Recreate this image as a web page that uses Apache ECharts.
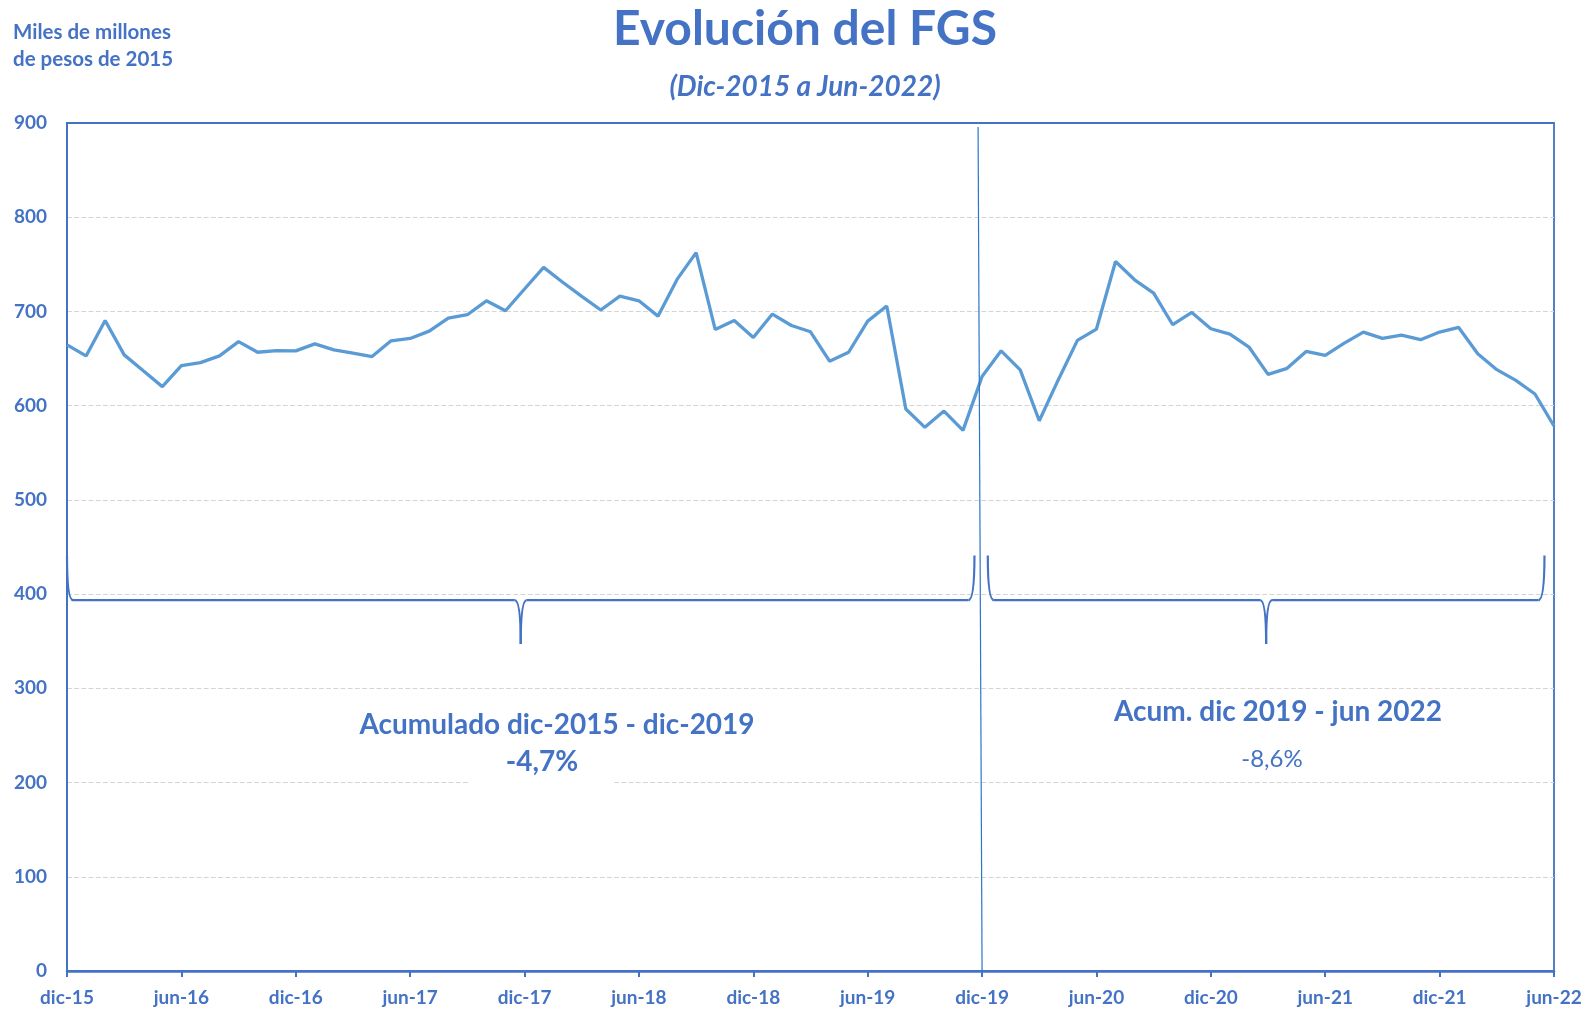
<!DOCTYPE html>
<html>
<head>
<meta charset="utf-8">
<title>Evolución del FGS</title>
<script src="https://cdn.jsdelivr.net/npm/echarts@6/dist/echarts.min.js"></script>
<style>
  html, body { margin: 0; padding: 0; background: #fff; }
  #chart { width: 1596px; height: 1012px; }
</style>
</head>
<body>
<div id="chart"></div>
<script>
// meses dic-2015 .. jun-2022
var meses = [
  'dic-15',
  'ene-16','feb-16','mar-16','abr-16','may-16','jun-16','jul-16','ago-16','sep-16','oct-16','nov-16','dic-16',
  'ene-17','feb-17','mar-17','abr-17','may-17','jun-17','jul-17','ago-17','sep-17','oct-17','nov-17','dic-17',
  'ene-18','feb-18','mar-18','abr-18','may-18','jun-18','jul-18','ago-18','sep-18','oct-18','nov-18','dic-18',
  'ene-19','feb-19','mar-19','abr-19','may-19','jun-19','jul-19','ago-19','sep-19','oct-19','nov-19','dic-19',
  'ene-20','feb-20','mar-20','abr-20','may-20','jun-20','jul-20','ago-20','sep-20','oct-20','nov-20','dic-20',
  'ene-21','feb-21','mar-21','abr-21','may-21','jun-21','jul-21','ago-21','sep-21','oct-21','nov-21','dic-21',
  'ene-22','feb-22','mar-22','abr-22','may-22','jun-22'
];

// FGS, miles de millones de pesos de 2015
var fgs = [
  664.5, 652.8, 690.4, 653.9, 637.0, 620.2, 642.6, 645.7, 652.8, 668.0,
  656.7, 658.5, 658.2, 665.6, 659.2, 655.7, 652.1, 668.8, 671.3, 679.1,
  692.9, 696.5, 711.3, 700.7, 723.8, 746.8, 731.0, 716.0, 701.5, 716.3,
  711.3, 695.0, 734.0, 762.4, 680.9, 690.4, 672.3, 697.2, 685.1, 678.4,
  647.2, 656.7, 689.7, 705.7, 596.5, 577.0, 594.3, 573.8, 631.0, 658.2,
  638.0, 584.0, 627.6, 669.3, 681.3, 753.0, 733.6, 719.4, 685.9, 698.9,
  681.6, 676.0, 662.2, 633.2, 639.6, 657.6, 653.4, 666.4, 678.1, 671.4,
  674.9, 670.0, 678.1, 683.0, 655.1, 638.2, 626.9, 612.4, 578.4
];

var yMin = 0, yMax = 900, yStep = 100;

var azul = '#4472C4';
var fuente = 'Lato';

var chart = echarts.init(document.getElementById('chart'));

var option = {
  backgroundColor: '#fff',
  animation: false,
  title: [
    {
      text: 'Evolución del FGS',
      left: 800, top: 1, textAlign: 'center',
      textStyle: { color: azul, fontFamily: fuente, fontWeight: 'bold', fontSize: 48 }
    },
    {
      text: '(Dic-2015 a Jun-2022)',
      left: 800, top: 68, textAlign: 'center',
      textStyle: { color: azul, fontFamily: fuente, fontWeight: 'bold', fontStyle: 'italic', fontSize: 28 }
    },
    {
      text: 'Miles de millones\nde pesos de 2015',
      left: 8, top: 14,
      textStyle: { color: azul, fontFamily: fuente, fontWeight: 'bold', fontSize: 20.5, lineHeight: 27 }
    }
  ],
  grid: {
    left: 67, right: 42, top: 123, bottom: 41,
    show: true, borderColor: azul, borderWidth: 1.8
  },
  xAxis: {
    type: 'category',
    data: meses,
    boundaryGap: false,
    axisLine: { lineStyle: { color: azul, width: 2.5 } },
    axisTick: { interval: 5, length: 6, lineStyle: { color: azul, width: 2 } },
    axisLabel: { interval: 5, margin: 17, color: azul, fontFamily: fuente, fontWeight: 'bold', fontSize: 19 },
    splitLine: { show: false }
  },
  yAxis: {
    type: 'value',
    min: yMin, max: yMax, interval: yStep,
    axisLine: { show: true, lineStyle: { color: azul, width: 2 } },
    axisTick: { show: false },
    axisLabel: { margin: 20, color: azul, fontFamily: fuente, fontWeight: 'bold', fontSize: 19 },
    splitLine: { showMaxLine: false, showMinLine: false, lineStyle: { color: '#d4d4d4', type: 'dashed', width: 1.2 } }
  },
  series: [{
    type: 'line',
    data: fgs,
    symbol: 'none',
    lineStyle: { color: '#5B9BD5', width: 3.3 },
    z: 3
  }]
};
chart.setOption(option);

// llaves, separador y textos
function px(i) {
  var a = chart.convertToPixel({ xAxisIndex: 0 }, 0);
  var b = chart.convertToPixel({ xAxisIndex: 0 }, meses.length - 1);
  return a + (b - a) * i / (meses.length - 1);
}
function py(v) { return chart.convertToPixel({ yAxisIndex: 0 }, v); }

var trazo = { stroke: azul, lineWidth: 2.2, fill: null };

function llave(i0, i1, it, vTop, vBar, vTip) {
  var x0 = px(i0), x1 = px(i1), xt = px(it);
  var yT = py(vTop), yB = py(vBar), yP = py(vTip);
  var r = 6;
  function curva(ax, ay, cx, cy, bx, by) {
    return { type: 'bezierCurve', z: 4, shape: { x1: ax, y1: ay, cpx1: cx, cpy1: cy, x2: bx, y2: by }, style: trazo };
  }
  function recta(ax, ay, bx, by) {
    return { type: 'line', z: 4, shape: { x1: ax, y1: ay, x2: bx, y2: by }, style: trazo };
  }
  return [
    curva(x0, yT, x0, yB, x0 + r, yB),
    recta(x0 + r, yB, xt - r, yB),
    curva(xt - r, yB, xt, yB, xt, yP),
    curva(xt, yP, xt, yB, xt + r, yB),
    recta(xt + r, yB, x1 - r, yB),
    curva(x1 - r, yB, x1, yB, x1, yT)
  ];
}

var xDiv = px(meses.indexOf('dic-19'));

var elementos = [
  {
    type: 'line', z: 4,
    shape: { x1: xDiv - 4, y1: 127, x2: xDiv, y2: py(0) },
    style: { stroke: '#2E75C8', lineWidth: 1.2 }
  },
  {
    type: 'rect', z: 5,
    shape: { x: 470, y: 745, width: 142, height: 50 },
    style: { fill: '#fff' }
  },
  {
    type: 'text', z: 6, x: 557, y: 725,
    style: { text: 'Acumulado dic-2015 - dic-2019', fill: azul, font: 'bold 28px ' + fuente, align: 'center', verticalAlign: 'middle' }
  },
  {
    type: 'text', z: 6, x: 542, y: 762,
    style: { text: '-4,7%', fill: azul, font: 'bold 28px ' + fuente, align: 'center', verticalAlign: 'middle' }
  },
  {
    type: 'text', z: 6, x: 1278, y: 712,
    style: { text: 'Acum. dic 2019 - jun 2022', fill: azul, font: 'bold 28px ' + fuente, align: 'center', verticalAlign: 'middle' }
  },
  {
    type: 'text', z: 6, x: 1272, y: 759,
    style: { text: '-8,6%', fill: azul, font: '24px ' + fuente, align: 'center', verticalAlign: 'middle' }
  }
].concat(
  llave(0, 47.6, 23.8, 441, 393.6, 347),
  llave(48.3, 77.5, 62.9, 441, 393.6, 347)
);

chart.setOption({ graphic: elementos });

window.addEventListener('resize', function () { chart.resize(); });
</script>
</body>
</html>
